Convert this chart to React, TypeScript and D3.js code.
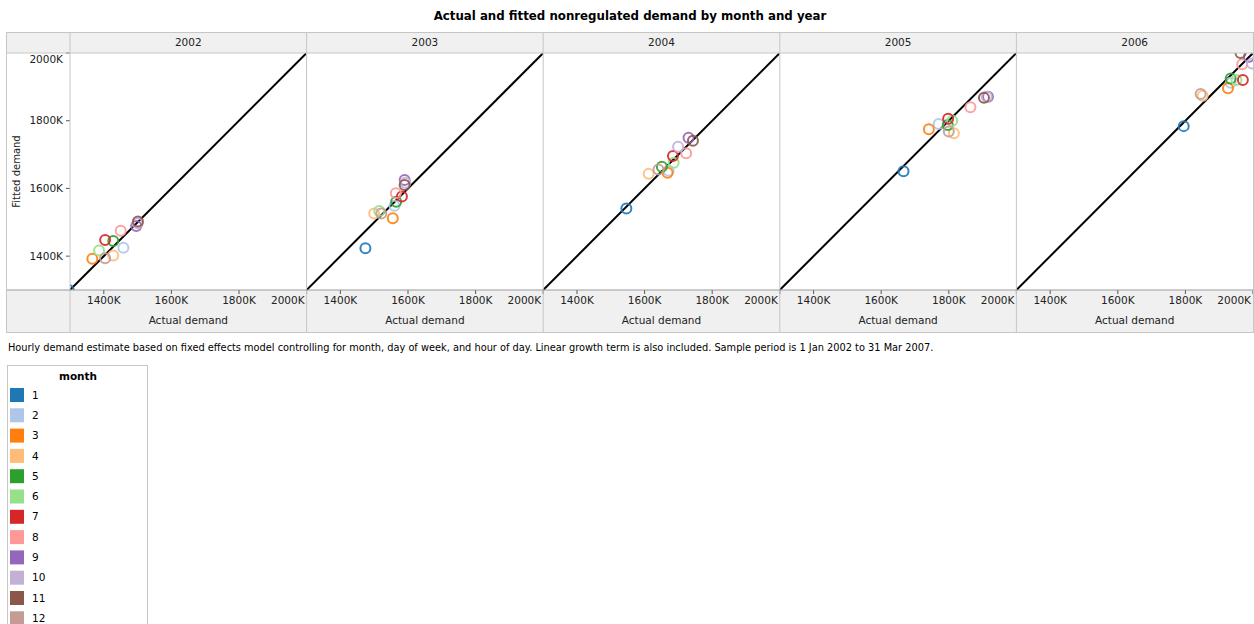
import React, { useEffect } from 'react';
import * as d3 from 'd3';

// facets and colour groups
const years = ['2002', '2003', '2004', '2005', '2006'];
const months = ['1', '2', '3', '4', '5', '6', '7', '8', '9', '10', '11', '12'];
const monthColors = ['#1f77b4', '#aec7e8', '#ff7f0e', '#ffbb78', '#2ca02c', '#98df8a',
  '#d62728', '#ff9896', '#9467bd', '#c5b0d5', '#8c564b', '#c49c94'];

// actual demand (K) by month, one array per year
const actual2002 = [1296, 1458, 1366, 1428, 1428, 1386, 1404, 1450, 1496, 1500, 1501, 1404];
const actual2003 = [1474, 1560, 1555, 1500, 1565, 1515, 1582, 1564, 1590, 1592, 1590, 1521];
const actual2004 = [1546, 1671, 1668, 1612, 1651, 1686, 1684, 1723, 1730, 1699, 1743, 1641];
const actual2005 = [1666, 1770, 1741, 1815, 1797, 1810, 1798, 1864, 1916, 1912, 1904, 1800];
const actual2006 = [1795, 1934, 1926, 1851, 1934, 1951, 1970, 1968, 1988, 1997, 1963, 1845];

// fitted demand (K) by month
const fitted2002 = [1300, 1425, 1392, 1402, 1445, 1417, 1448, 1475, 1489, 1497, 1502, 1394];
const fitted2003 = [1423, 1549, 1512, 1526, 1561, 1533, 1576, 1586, 1625, 1617, 1610, 1526];
const fitted2004 = [1541, 1652, 1646, 1643, 1664, 1676, 1696, 1704, 1750, 1723, 1741, 1656];
const fitted2005 = [1651, 1790, 1775, 1763, 1787, 1800, 1806, 1840, 1871, 1871, 1868, 1768];
const fitted2006 = [1784, 1912, 1896, 1874, 1925, 1920, 1920, 1967, 1989, 1969, 2000, 1879];

const actualByYear = [actual2002, actual2003, actual2004, actual2005, actual2006];
const fittedByYear = [fitted2002, fitted2003, fitted2004, fitted2005, fitted2006];

const ticks = [1400, 1600, 1800, 2000];
const domain: [number, number] = [1300, 2000];

const FONT = "'DejaVu Sans', Verdana, sans-serif";
const title = 'Actual and fitted nonregulated demand by month and year';
const caption = 'Hourly demand estimate based on fixed effects model controlling for month, day of week, and hour of day. Linear growth term is also included. Sample period is 1 Jan 2002 to 31 Mar 2007.';

const frameLeft = 6, frameRight = 1253, frameTop = 32, frameBottom = 332;
const plotLeft = 70, plotTop = 53, plotBottom = 290;
const panelW = (frameRight - plotLeft) / years.length;
const border = '#c6c6c6';
const band = '#f0f0f0';

export default function App() {
  useEffect(() => { document.body.style.margin = '0'; }, []);

  const x = d3.scaleLinear().domain(domain).range([0, panelW]);
  const y = d3.scaleLinear().domain(domain).range([plotBottom, plotTop]);
  const color = d3.scaleOrdinal<string, string>().domain(months).range(monthColors);
  const diag = d3.line<number>().x(d => x(d)).y(d => y(d));

  return (
    <svg width={1254} height={624} style={{ display: 'block', fontFamily: FONT }}>
      <text x={630} y={20} textAnchor="middle" fontSize={11.8} fontWeight="bold" fill="#000">{title}</text>

      {/* grey bands */}
      <rect x={frameLeft} y={frameTop} width={frameRight - frameLeft} height={plotTop - frameTop} fill={band} />
      <rect x={frameLeft} y={plotBottom} width={frameRight - frameLeft} height={frameBottom - plotBottom} fill={band} />

      {/* y axis */}
      <text transform={`translate(20,${(plotTop + plotBottom) / 2}) rotate(-90)`} textAnchor="middle" fontSize={10} fill="#222">Fitted demand</text>
      {ticks.map(t => (
        <g key={'y' + t}>
          <line x1={plotLeft - 4} x2={plotLeft} y1={y(t)} y2={y(t)} stroke="#555" />
          <text x={plotLeft - 7} y={Math.max(y(t), plotTop + 6)} dy="0.35em" textAnchor="end" fontSize={10.5} fill="#222">{t}K</text>
        </g>
      ))}

      {years.map((yr, i) => {
        const left = plotLeft + i * panelW;
        const act = actualByYear[i];
        const fit = fittedByYear[i];
        return (
          <g key={yr} transform={`translate(${left},0)`}>
            <text x={panelW / 2} y={plotTop - 7} textAnchor="middle" fontSize={10.5} fill="#222">{yr}</text>
            <clipPath id={'clip' + yr}>
              <rect x={0} y={plotTop} width={panelW} height={plotBottom - plotTop} />
            </clipPath>
            <g clipPath={`url(#clip${yr})`}>
              <path d={diag(domain) || ''} stroke="#000" strokeWidth={2} fill="none" />
              {months.map((m, j) => (
                <circle key={m} cx={x(act[j])} cy={y(fit[j])} r={5} fill="none"
                  stroke={color(m)} strokeWidth={2} strokeOpacity={0.9} />
              ))}
            </g>
            {ticks.map(t => (
              <g key={'x' + t}>
                <line x1={x(t)} x2={x(t)} y1={plotBottom} y2={plotBottom + 4} stroke="#555" />
                <text x={t === 2000 ? panelW - 2 : x(t)} y={plotBottom + 14} textAnchor={t === 2000 ? 'end' : 'middle'} fontSize={10.5} fill="#222">{t}K</text>
              </g>
            ))}
            <text x={panelW / 2} y={plotBottom + 34} textAnchor="middle" fontSize={10.5} fill="#222">Actual demand</text>
            <line x1={0} x2={0} y1={frameTop} y2={frameBottom} stroke={border} />
          </g>
        );
      })}

      {/* frame lines */}
      <line x1={frameLeft} x2={frameRight} y1={plotTop} y2={plotTop} stroke={border} />
      <line x1={frameLeft} x2={frameRight} y1={plotBottom} y2={plotBottom} stroke="#999" />
      <rect x={frameLeft + 0.5} y={frameTop + 0.5} width={frameRight - frameLeft} height={frameBottom - frameTop} fill="none" stroke={border} />

      <text x={8} y={351} fontSize={9.8} fill="#000">{caption}</text>

      {/* legend */}
      <rect x={7.5} y={365.5} width={140} height={270} fill="#fff" stroke={border} />
      <text x={78} y={380} textAnchor="middle" fontSize={10.5} fontWeight="bold" fill="#000">month</text>
      {months.map((m, j) => (
        <g key={'lg' + m} transform={`translate(10,${388 + j * 20.3})`}>
          <rect width={14} height={14} fill={color(m)} />
          <text x={22} y={7} dy="0.35em" fontSize={10.5} fill="#000">{m}</text>
        </g>
      ))}
    </svg>
  );
}
